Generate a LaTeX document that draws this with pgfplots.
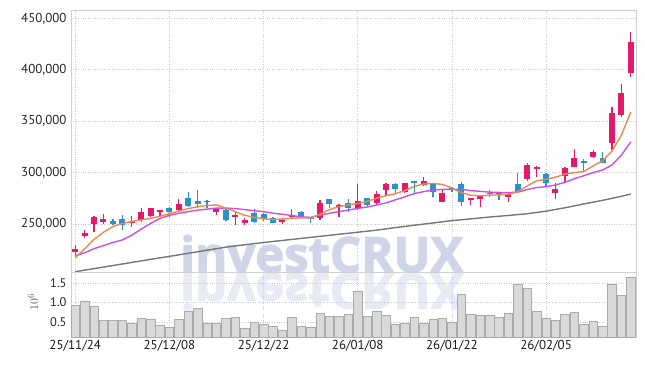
\documentclass[border=0pt]{standalone}
\usepackage{pgfplots}
\pgfplotsset{compat=1.18}
\usepackage{pgfplotstable}
\usepackage{fontspec}
\setmainfont{PT Sans}
\newfontfamily\wmfont{Open Sans}[BoldFeatures={FakeBold=2.5}]

\definecolor{upred}{HTML}{E31A6B}
\definecolor{dnblue}{HTML}{2B92C8}
\definecolor{maorange}{HTML}{F0884A}
\definecolor{mapurple}{HTML}{C850E8}
\definecolor{magray}{HTML}{777777}
\definecolor{gridc}{HTML}{C4C9DC}
\definecolor{framec}{HTML}{D0D0D0}
\definecolor{wm}{HTML}{D0D6E8}
\definecolor{wmr}{HTML}{E8EBF3}
\definecolor{volfill}{HTML}{D9D9D9}
\definecolor{voledge}{HTML}{ABABAB}

% i O H L C
\pgfplotstableread{
i O H L C
0 223000 230000 220000 226000
1 238300 244000 236000 241000
2 249700 257500 242500 256800
3 252200 259400 249700 254900
6 251000 257500 247400 252200
7 253900 265900 252200 261400
8 258100 265900 257100 265200
9 261300 264000 257100 263600
11 263300 274300 262600 269200
15 261300 265900 258700 264300
17 257100 262000 249000 258700
18 250700 255500 249000 253900
22 252200 256200 249700 253900
23 256500 264300 254500 258700
26 256200 273300 253900 270100
28 266500 269000 257100 268500
30 265200 288600 263600 272400
32 270100 282100 268500 278900
33 283100 289500 278200 288900
35 281400 290000 279800 289600
37 287900 295400 287000 291800
39 271700 283100 271500 279800
42 273300 275600 268500 275000
43 274300 277500 266200 277200
46 276600 281400 271700 279200
48 293500 309700 292100 307400
49 303200 306000 296000 305700
51 279800 289600 274300 284000
52 296700 305700 290500 304100
53 305700 322600 305100 314200
55 315500 322000 314500 320000
57 328500 363500 322000 357600
58 356000 385900 353800 377100
59 396600 436500 392700 426700
}\upcandles

\pgfplotstableread{
i O H L C
4 252900 254900 249000 250300
5 254900 258800 244200 249000
10 265900 266900 257100 262000
12 275000 281400 266900 267800
13 272400 283000 265200 269100
14 272700 273300 265200 271700
16 263600 264500 252900 253900
19 261000 264300 250600 252200
20 259400 261000 252900 254500
21 255500 256500 250600 251300
24 261300 262600 255500 256200
25 256200 256500 250600 254500
27 274300 274500 265200 269100
29 270700 274000 262000 265900
31 275000 275500 266800 268500
34 288900 289600 280500 283700
36 291800 292000 279800 289600
38 288600 289600 276600 281400
40 285300 286300 281400 283100
41 288600 291200 267500 271700
44 280500 283100 276000 279800
45 280500 281400 273300 279800
47 288900 299900 280500 281400
50 298600 299900 286300 289600
54 311000 312900 301800 309600
56 314500 319700 309000 309600
}\dncandles

\pgfplotstableread{
i v
0 217000
1 226000
2 235000
3 242000
4 247500
5 250500
6 252500
7 254000
8 255500
9 257500
10 260000
11 262500
12 265000
13 266800
14 268000
15 268500
16 265500
17 262000
18 258500
19 256500
20 255000
21 254500
22 254800
23 255500
24 256000
25 256000
26 259500
27 264000
28 267000
29 268500
30 270000
31 272000
32 275000
33 277500
34 279500
35 282500
36 286500
37 289000
38 289500
39 288500
40 285000
41 280500
42 278000
43 277500
44 278000
45 278500
46 279000
47 281500
48 287000
49 292000
50 293500
51 295500
52 298500
53 300000
54 301000
55 306500
56 311500
57 321000
58 336500
59 359000
}\maA

\pgfplotstableread{
i v
0 219000
1 222000
2 226000
3 229000
4 232000
5 234500
6 239000
7 245000
8 250500
9 255500
10 258500
11 260500
12 262000
13 263500
14 264500
15 265500
16 265500
17 265000
18 264000
19 263000
20 262000
21 260500
22 259500
23 258200
24 257000
25 256500
26 258500
27 260500
28 262000
29 263500
30 265200
31 266500
32 268500
33 270500
34 273500
35 276500
36 279500
37 281500
38 283000
39 283700
40 283700
41 283700
42 282500
43 281800
44 281000
45 280700
46 280500
47 281000
48 283500
49 285500
50 286300
51 288000
52 290500
53 294000
54 297000
55 300000
56 302500
57 307400
58 317000
59 330000
}\maB

\pgfplotstableread{
i v
0 203600
2 206600
4 209600
6 212600
8 215600
10 218500
12 221500
14 224500
16 227500
18 229800
20 232000
22 234000
24 236000
26 238000
28 240000
30 242000
32 244000
34 246500
36 248800
38 251000
40 253300
42 255000
44 256800
46 258300
48 260000
50 262500
52 265800
54 269500
56 273000
58 277000
59 279200
}\maC

\pgfplotstableread{
i v
0 0.935
1 1.04
2 0.91
3 0.535
4 0.535
5 0.535
6 0.457
7 0.587
8 0.56
9 0.413
10 0.35
11 0.56
12 0.77
13 0.857
14 0.465
15 0.465
16 0.587
17 0.613
18 0.326
19 0.49
20 0.44
21 0.387
22 0.274
23 0.613
24 0.387
25 0.35
26 0.717
27 0.648
28 0.648
29 0.70
30 1.30
31 0.648
32 0.77
33 0.674
34 0.44
35 0.465
36 0.62
37 0.465
38 0.57
39 0.59
40 0.50
41 1.22
42 0.70
43 0.68
44 0.68
45 0.62
46 0.73
47 1.48
48 1.36
49 0.76
50 0.60
51 0.545
52 0.70
53 0.75
54 0.44
55 0.52
56 0.385
57 1.48
58 1.18
59 1.66
}\vol

\pgfplotsset{
  candle/.style 2 args={draw=none, mark=none, forget plot,
    error bars/.cd, y dir=plus, y explicit, error mark=none,
    error bar style={line width=#1, draw=#2, solid}},
}

\begin{document}
\begin{tikzpicture}
\useasboundingbox (0,0) rectangle (645bp,-366bp);
% watermark and its reflection
\node[anchor=base west, inner sep=0pt, text=wm] at (180bp,-272bp)
  {\resizebox{283bp}{37bp}{\wmfont\bfseries investCRUX}};
\node[anchor=north west, inner sep=0pt, text=wmr] at (180bp,-273bp)
  {\scalebox{1}[-1]{\resizebox{283bp}{37bp}{\wmfont\bfseries investCRUX}}};

\begin{axis}[
  at={(71bp,-272bp)}, anchor=south west, scale only axis,
  width=565bp, height=262bp,
  xmin=-0.45, xmax=59.55, ymin=203300, ymax=458200,
  xtick={0,10,20,30,40,50}, xticklabels={},
  ytick={250000,300000,350000,400000,450000},
  scaled y ticks=false,
  grid=major, major grid style={gridc, dotted, line width=0.7bp},
  axis line style={framec},
  major tick length=0pt,
  yticklabel style={font=\fontsize{13}{13}\selectfont, text=black!85, xshift=-1bp},
  /pgf/number format/.cd, fixed, precision=0, 1000 sep={,}, assume math mode=true
]
% wicks
\addplot[candle={1.3bp}{upred}]
  table[x=i, y=L, y error expr=\thisrow{H}-\thisrow{L}] {\upcandles};
\addplot[candle={1.3bp}{dnblue}]
  table[x=i, y=L, y error expr=\thisrow{H}-\thisrow{L}] {\dncandles};
% bodies
\addplot[candle={6bp}{upred}]
  table[x=i, y=O, y error expr=\thisrow{C}-\thisrow{O}] {\upcandles};
\addplot[candle={6bp}{dnblue}]
  table[x=i, y=C, y error expr=\thisrow{O}-\thisrow{C}] {\dncandles};
% moving averages
\addplot[magray, line width=1.4bp, mark=none] table[x=i, y=v] {\maC};
\addplot[mapurple, line width=1.4bp, mark=none] table[x=i, y=v] {\maB};
\addplot[maorange, line width=1.4bp, mark=none] table[x=i, y=v] {\maA};
\end{axis}

\begin{axis}[
  at={(71bp,-337bp)}, anchor=south west, scale only axis,
  width=565bp, height=65bp,
  xmin=-0.45, xmax=59.55, ymin=0.11, ymax=1.786,
  xtick={0,10,20,30,40,50},
  xticklabels={25/11/24,25/12/08,25/12/22,26/01/08,26/01/22,26/02/05},
  ytick={0.5,1.0,1.5},
  scaled y ticks=false,
  grid=major, major grid style={gridc, dotted, line width=0.7bp},
  axis line style={framec},
  major tick length=0pt,
  xticklabel style={font=\fontsize{13}{13}\selectfont, text=black!90},
  yticklabel style={font=\fontsize{12.5}{12.5}\selectfont, text=black!85, xshift=-1bp},
  ylabel={$10^6$},
  ylabel style={at={(axis description cs:-0.067,0.54)}, anchor=center, text=black!65, font=\fontsize{13}{13}\selectfont},
  /pgf/number format/.cd, fixed, fixed zerofill, precision=1, assume math mode=true
]
\addplot[ybar, bar width=0.9, fill=volfill, draw=voledge, line width=0.6bp] table[x=i, y=v] {\vol};
\end{axis}
\end{tikzpicture}
\end{document}
